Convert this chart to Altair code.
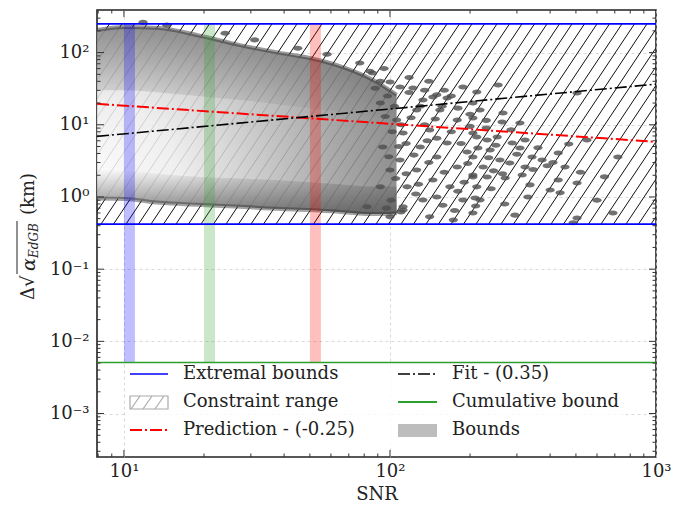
import math
import altair as alt
import pandas as pd

# ---------------- data ----------------
cloud_snr = [7.92, 10, 13.6, 18.8, 27.3, 38.6, 50, 64.8, 84, 100, 106]
cloud_upper = [205, 226, 219, 175, 127, 99, 84, 65, 44, 30, 26]
cloud_lower = [0.95, 0.94, 0.83, 0.78, 0.73, 0.68, 0.66, 0.62, 0.58, 0.58, 0.6]
cloud_topshade = [30, 30, 28, 25, 22, 19, 17, 15, 13, 11, 10]
cloud_lowshade = [2.4, 2.3, 2.1, 1.9, 1.8, 1.7, 1.6, 1.5, 1.4, 1.4, 1.4]

scatter_snr = [255, 212, 505, 205, 218, 266, 264, 308, 205, 212, 232, 253, 288, 322, 550, 214, 238, 308, 205, 259,
               342, 373, 429, 719, 224, 282, 322, 205, 232, 271, 314, 429, 336, 505, 212, 400, 436, 218, 209, 295,
               689, 488, 505,
               77, 86, 100, 109, 122, 145, 164, 188, 133, 154, 126, 179, 205, 141, 112, 164, 130, 195, 150, 109,
               179, 126, 205, 145, 168, 116, 188, 133, 158, 112, 205, 141, 100, 173, 82, 92, 100, 94, 106, 92,
               120, 135, 150, 170, 185, 115, 140, 160, 190, 125, 150, 175, 200, 230, 118, 140, 160, 95, 110, 235,
               245, 270, 330, 360, 390, 455, 600, 285,
               11.8, 14.5, 24, 31, 45, 58,
               98, 104, 102, 108, 99, 105, 101, 112, 96, 118, 110, 123, 97, 115, 88, 92, 84, 130, 128, 138,
               148, 157, 170, 180, 196, 210, 240, 250, 265, 300, 345, 410, 470, 520, 640, 180, 200, 230, 150, 135]
scatter_val = [35.6, 28.5, 27.6, 20.0, 16.0, 14.6, 10.9, 10.6, 12.4, 6.78, 6.15, 6.78, 5.60, 6.15, 6.15, 4.77, 4.48,
               4.77, 3.58, 3.25, 3.58, 3.25, 4.07, 3.58, 2.60, 2.96, 2.60, 1.89, 1.89, 1.83, 2.02, 1.72, 1.47, 1.56,
               1.38, 1.25, 1.14, 0.91, 0.97, 0.56, 0.60, 0.44, 0.51,
               71.8, 52.1, 39.2, 33.4, 32.3, 24.3, 23.5, 33.4, 22.0, 16.0, 16.0, 11.6, 7.70, 8.47, 7.70, 5.60, 4.93,
               4.20, 3.58, 3.25, 2.60, 2.37, 2.02, 1.72, 1.38, 1.38, 0.91, 0.91, 0.77, 0.73, 0.60, 0.53, 0.53, 0.48,
               0.73, 1.38, 2.37, 4.93, 11.6, 20.0,
               12.5, 10.0, 6.5, 8.0, 5.5, 5.5, 3.0, 2.2, 1.6, 1.1, 1.0, 0.65, 9.5, 9.0, 45, 40, 30, 60, 0.62, 3.5,
               2.3, 0.8, 1.0, 4.8, 2.7, 2.6, 0.9, 8.5,
               262, 240, 185, 150, 115, 95,
               25, 18, 8, 5, 3.6, 1.8, 0.9, 0.66, 13, 28, 10, 3.8, 0.7, 2.1, 32, 40, 55, 18, 1.5, 6,
               12, 18, 25, 1.2, 2.9, 0.75, 1.3, 5.2, 2.1, 3.9, 2.4, 3.0, 5.4, 2.2, 1.9, 17, 14, 11.5, 26, 30]
assert len(scatter_snr) == len(scatter_val)

pred_snr = [7.92, 1000]
pred_val = [19.5, 5.8]
fit_snr = [7.92, 1000]
fit_val = [6.9, 36.6]

extremal_bounds = [0.42, 250]
cumulative_bound = 0.0051
band_lo = [10, 20, 50]
band_hi = [11, 22, 55]
band_col = ["#0000ff", "#2ca02c", "#ff0000"]

x_dom = [7.92, 1000]
y_dom = [2.5e-4, 389]

# ---------------- layout ----------------
W, H = 559, 447
FONT = "DejaVu Serif"
FS = 18
xs = alt.Scale(type="log", domain=x_dom, nice=False)
ys = alt.Scale(type="log", domain=y_dom, nice=False)
xa = alt.Axis(values=[10, 100, 1000], title="SNR",
              labelExpr="datum.value < 50 ? '10¹' : (datum.value < 500 ? '10²' : '10³')",
              labelPadding=5, titlePadding=5, labelFlush=False)
ya = alt.Axis(values=[1e-3, 1e-2, 1e-1, 1, 10, 100], title=None,
              labelExpr="datum.value < 0.005 ? '10⁻³' : datum.value < 0.05 ? '10⁻²' : datum.value < 0.5 ? '10⁻¹' : datum.value < 5 ? '10⁰' : datum.value < 50 ? '10¹' : '10²'",
              labelPadding=8)


def X(f):
    return alt.X(f, scale=xs, axis=xa)


def Y(f):
    return alt.Y(f, scale=ys, axis=ya)


# hatch lines of the constraint range
lx0, lx1 = math.log10(x_dom[0]), math.log10(x_dom[1])
ly0, ly1 = math.log10(extremal_bounds[0]), math.log10(extremal_bounds[1])
px_per_dec_x = W / (lx1 - lx0)
px_per_dec_y = H / (math.log10(y_dom[1]) - math.log10(y_dom[0]))
k = 1.5 * px_per_dec_x / px_per_dec_y
span = (ly1 - ly0) / k
step = 12.5 / px_per_dec_x
rows = []
s = lx0 - span
while s < lx1:
    a, b, y_a, y_b = s, s + span, ly0, ly1
    if a < lx0:
        y_a = ly0 + (lx0 - a) * k
        a = lx0
    if b > lx1:
        y_b = ly1 - (b - lx1) * k
        b = lx1
    if b > a:
        rows.append({"x": 10 ** a, "x2": 10 ** b, "y": 10 ** y_a, "y2": 10 ** y_b})
    s += step
hatch = alt.Chart(pd.DataFrame(rows)).mark_rule(color="#111", strokeWidth=1.0).encode(
    x=X("x:Q"), x2="x2:Q", y=Y("y:Q"), y2="y2:Q")

cloud_df = pd.DataFrame({"snr": cloud_snr, "up": cloud_upper, "lo": cloud_lower,
                         "ts": cloud_topshade, "ls": cloud_lowshade})
radial = alt.RadialGradient(
    gradient="radial", x1=0.0, y1=0.71, r1=0.0, x2=0.0, y2=0.71, r2=1.1,
    stops=[alt.GradientStop(offset=0.0, color="#fbfbfb"),
           alt.GradientStop(offset=0.25, color="#ececec"),
           alt.GradientStop(offset=0.5, color="#c2c2c2"),
           alt.GradientStop(offset=0.75, color="#979797"),
           alt.GradientStop(offset=1.0, color="#707070")])
cloud = alt.Chart(cloud_df).mark_area(fill=radial, opacity=0.86, interpolate="monotone").encode(
    x=X("snr:Q"), y=Y("up:Q"), y2="lo:Q")
lin_low = alt.LinearGradient(
    gradient="linear", x1=0, y1=0, x2=0, y2=1,
    stops=[alt.GradientStop(offset=0.0, color="rgba(80,80,80,0)"),
           alt.GradientStop(offset=1.0, color="rgba(80,80,80,0.7)")])
lin_top = alt.LinearGradient(
    gradient="linear", x1=0, y1=0, x2=0, y2=1,
    stops=[alt.GradientStop(offset=0.0, color="rgba(70,70,70,0.45)"),
           alt.GradientStop(offset=1.0, color="rgba(70,70,70,0)")])
cloud_low = alt.Chart(cloud_df).mark_area(fill=lin_low, interpolate="monotone").encode(
    x=X("snr:Q"), y=Y("ls:Q"), y2="lo:Q")
cloud_top = alt.Chart(cloud_df).mark_area(fill=lin_top, interpolate="monotone").encode(
    x=X("snr:Q"), y=Y("up:Q"), y2="ts:Q")
edge_up = alt.Chart(cloud_df).mark_line(color="#333", strokeWidth=4, opacity=0.5, interpolate="monotone").encode(
    x=X("snr:Q"), y=Y("up:Q"))
edge_lo = alt.Chart(cloud_df).mark_line(color="#333", strokeWidth=4, opacity=0.45, interpolate="monotone").encode(
    x=X("snr:Q"), y=Y("lo:Q"))

ellipse = "M -1 0 A 1 0.55 0 1 0 1 0 A 1 0.55 0 1 0 -1 0 Z"
scatter = alt.Chart(pd.DataFrame({"snr": scatter_snr, "v": scatter_val})).mark_point(
    shape=ellipse, filled=True, size=85, color="#4d4d4d", opacity=0.8, strokeWidth=0).encode(
    x=X("snr:Q"), y=Y("v:Q"))

band_df = pd.DataFrame({"lo": band_lo, "hi": band_hi, "c": band_col,
                        "y0": [cumulative_bound] * 3, "y1": [extremal_bounds[1]] * 3})
bands = alt.Chart(band_df).mark_rect(opacity=0.25).encode(
    x=X("lo:Q"), x2="hi:Q", y=Y("y0:Q"), y2="y1:Q",
    fill=alt.Fill("c:N", scale=None))

blue = alt.Chart(pd.DataFrame({"y": extremal_bounds})).mark_rule(color="#0000ff", strokeWidth=1.6).encode(
    y=Y("y:Q"), x=alt.value(0), x2=alt.value(W))
green = alt.Chart(pd.DataFrame({"y": [cumulative_bound]})).mark_rule(color="#2ca02c", strokeWidth=1.6).encode(
    y=Y("y:Q"), x=alt.value(0), x2=alt.value(W))

dash = [12, 3, 2, 3]
pred = alt.Chart(pd.DataFrame({"snr": pred_snr, "v": pred_val})).mark_line(
    color="#ff0000", strokeWidth=2, strokeDash=dash).encode(x=X("snr:Q"), y=Y("v:Q"))
fit = alt.Chart(pd.DataFrame({"snr": fit_snr, "v": fit_val})).mark_line(
    color="#000000", strokeWidth=1.6, strokeDash=dash).encode(x=X("snr:Q"), y=Y("v:Q"))

# ---------------- legend (manual) ----------------
one = pd.DataFrame({"a": [0]})
leg = [alt.Chart(one).mark_rect(fill="white", opacity=0.8, cornerRadius=4).encode(
    x=alt.value(28), x2=alt.value(525), y=alt.value(354), y2=alt.value(438))]


def lrule(x1, x2, y, color, width=1.6, dashp=None):
    kw = dict(color=color, strokeWidth=width)
    if dashp:
        kw["strokeDash"] = dashp
    return alt.Chart(one).mark_rule(**kw).encode(x=alt.value(x1), x2=alt.value(x2), y=alt.value(y))


leg.append(lrule(33, 71, 364, "#0000ff"))
leg.append(lrule(33, 71, 420, "#ff0000", 2, dash))
leg.append(lrule(301, 340, 364, "#000000", 1.6, dash))
leg.append(lrule(301, 340, 392, "#2ca02c", 2))
leg.append(alt.Chart(one).mark_rect(fill="white", stroke="#aaaaaa", strokeWidth=1.2).encode(
    x=alt.value(33), x2=alt.value(71), y=alt.value(386), y2=alt.value(399)))
for xs0 in [34, 46, 58]:
    leg.append(alt.Chart(one).mark_rule(color="#aaaaaa", strokeWidth=1.2).encode(
        x=alt.value(xs0), x2=alt.value(xs0 + 9), y=alt.value(399), y2=alt.value(386)))
leg.append(alt.Chart(one).mark_rect(fill="#bdbdbd").encode(
    x=alt.value(301), x2=alt.value(340), y=alt.value(414), y2=alt.value(427)))
legend_text = [("Extremal bounds", 86, 364), ("Constraint range", 86, 392), ("Prediction - (-0.25)", 86, 420),
               ("Fit - (0.35)", 355, 364), ("Cumulative bound", 355, 392), ("Bounds", 355, 420)]
for t, x, y in legend_text:
    leg.append(alt.Chart(one).mark_text(text=t, font=FONT, fontSize=FS, align="left", baseline="middle",
                                        color="#222").encode(x=alt.value(x), y=alt.value(y)))

# ---------------- inward ticks ----------------
x_major = [10, 100]
x_minor = [8, 9] + [m * 10 for m in range(2, 10)] + [m * 100 for m in range(2, 10)]
y_major = [1e-3, 1e-2, 1e-1, 1, 10, 100]
y_minor = [m * 10 ** e for e in range(-4, 3) for m in range(2, 10) if y_dom[0] < m * 10 ** e < y_dom[1]]
ticks = []
for vals, ln in [(x_major, 7), (x_minor, 3.5)]:
    d = pd.DataFrame({"v": vals})
    for y0, y1 in [(H, H - ln), (0, ln)]:
        ticks.append(alt.Chart(d).mark_rule(color="#333", strokeWidth=1).encode(
            x=X("v:Q"), y=alt.value(y0), y2=alt.value(y1)))
for vals, ln in [(y_major, 7), (y_minor, 3.5)]:
    d = pd.DataFrame({"v": vals})
    for x0, x1 in [(0, ln), (W, W - ln)]:
        ticks.append(alt.Chart(d).mark_rule(color="#333", strokeWidth=1).encode(
            y=Y("v:Q"), x=alt.value(x0), x2=alt.value(x1)))


# ---------------- y title ----------------
def ytxt(t, x, y, size=FS, style="normal"):
    return alt.Chart(one).mark_text(text=t, font=FONT, fontSize=size, fontStyle=style, angle=270,
                                    align="left", baseline="middle", color="#222").encode(
        x=alt.value(x), y=alt.value(y))


ytitle = [ytxt("Δ√", -68, 290), ytxt("α", -68, 261, 19, "italic"), ytxt("EdGB", -63, 248, 12, "italic"),
          ytxt("(km)", -68, 205),
          alt.Chart(one).mark_rule(color="#222", strokeWidth=1).encode(
              x=alt.value(-80), y=alt.value(264), y2=alt.value(211))]

chart = alt.layer(hatch, cloud, cloud_top, cloud_low, edge_up, edge_lo, scatter, bands, blue, green, pred, fit,
                  *leg, *ticks, *ytitle).properties(
    width=W, height=H, autosize=alt.AutoSizeParams(type="none"),
    padding={"left": 97, "top": 10, "right": 17, "bottom": 48},
).configure_view(stroke="#222", strokeWidth=1.6).configure_axis(
    labelFont=FONT, labelFontSize=FS, labelColor="#222", ticks=False, domain=False,
    grid=True, gridColor="#cfcfcf", gridDash=[3, 3], gridWidth=0.8,
    titleFont=FONT, titleFontSize=FS, titleFontWeight="normal", titleColor="#222")

chart.save("out.html", embed_options={"renderer": "svg", "actions": False})
